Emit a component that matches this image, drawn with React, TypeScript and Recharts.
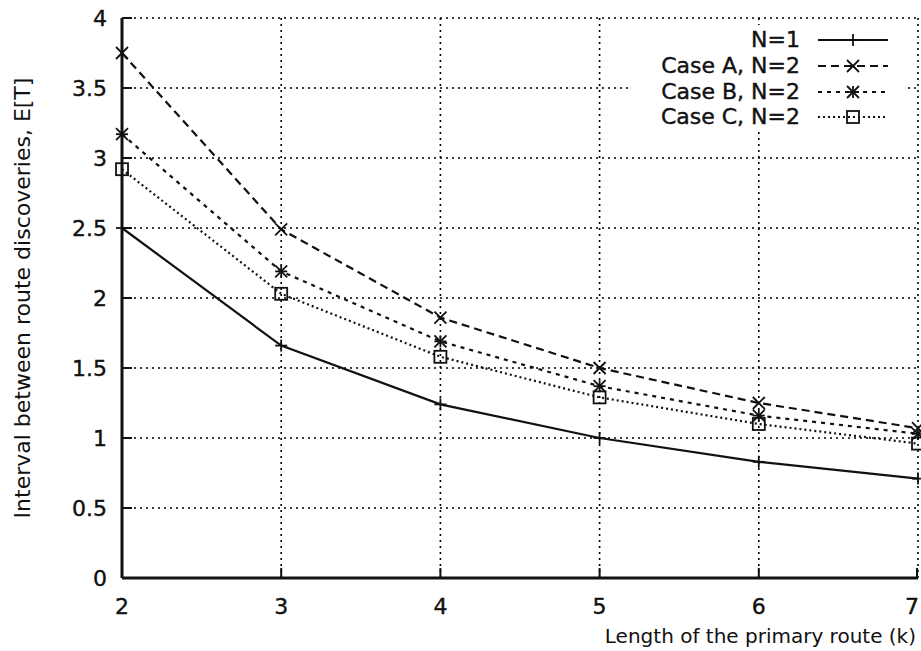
import { CartesianGrid, Line, LineChart, XAxis, YAxis } from "recharts";

const K = [2, 3, 4, 5, 6, 7];
const N1 = [2.5, 1.66, 1.24, 1.0, 0.83, 0.71];
const CASE_A = [3.75, 2.49, 1.86, 1.5, 1.25, 1.07];
const CASE_B = [3.17, 2.19, 1.69, 1.37, 1.16, 1.03];
const CASE_C = [2.92, 2.03, 1.58, 1.29, 1.1, 0.96];

const X_TICKS = [2, 3, 4, 5, 6, 7];
const Y_TICKS = [0, 0.5, 1, 1.5, 2, 2.5, 3, 3.5, 4];

const SERIES_NAMES = ["N=1", "Case A, N=2", "Case B, N=2", "Case C, N=2"];

const data = K.map((k, i) => ({
  k,
  n1: N1[i],
  a: CASE_A[i],
  b: CASE_B[i],
  c: CASE_C[i],
}));

const FONT = "'DejaVu Sans', sans-serif";
const INK = "#111";

type Shape = "plus" | "cross" | "star" | "square";

function Marker({ cx, cy, shape }: { cx: number; cy: number; shape: Shape }) {
  const h = 6;
  const p = { stroke: INK, strokeWidth: 1.8, fill: "none" };
  if (shape === "square")
    return <rect x={cx - h} y={cy - h} width={h * 2} height={h * 2} {...p} />;
  const plus = (
    <>
      <line x1={cx - h} y1={cy} x2={cx + h} y2={cy} {...p} />
      <line x1={cx} y1={cy - h} x2={cx} y2={cy + h} {...p} />
    </>
  );
  const cross = (
    <>
      <line x1={cx - h} y1={cy - h} x2={cx + h} y2={cy + h} {...p} />
      <line x1={cx - h} y1={cy + h} x2={cx + h} y2={cy - h} {...p} />
    </>
  );
  return (
    <g>
      {(shape === "plus" || shape === "star") && plus}
      {(shape === "cross" || shape === "star") && cross}
    </g>
  );
}

const SERIES: { key: string; shape: Shape; dash?: string }[] = [
  { key: "n1", shape: "plus" },
  { key: "a", shape: "cross", dash: "8 5" },
  { key: "b", shape: "star", dash: "4 5" },
  { key: "c", shape: "square", dash: "2 3" },
];

const dotFor = (shape: Shape) => (props: any) =>
  props.cx == null ? null : (
    <Marker key={props.index} cx={props.cx} cy={props.cy} shape={shape} />
  );

const textStyle = { fontSize: 22, fontFamily: FONT, fill: INK, stroke: INK, strokeWidth: 0.4 };

const leftTick = (props: any) => (
  <g>
    <line x1={props.x} y1={props.y} x2={props.x + 10} y2={props.y} stroke={INK} strokeWidth={2} />
    <text x={props.x - 15} y={props.y + 8} textAnchor="end" {...textStyle}>
      {props.payload.value}
    </text>
  </g>
);
const rightTick = (props: any) => (
  <line x1={props.x} y1={props.y} x2={props.x - 10} y2={props.y} stroke={INK} strokeWidth={2} />
);
const bottomTick = (props: any) => (
  <g>
    <line x1={props.x} y1={props.y} x2={props.x} y2={props.y - 10} stroke={INK} strokeWidth={2} />
    <text x={Math.min(props.x, 912)} y={props.y + 36} textAnchor="middle" {...textStyle}>
      {props.payload.value}
    </text>
  </g>
);
const topTick = (props: any) => (
  <line x1={props.x} y1={props.y} x2={props.x} y2={props.y + 10} stroke={INK} strokeWidth={2} />
);

const yLabel = (p: any) => {
  const vb = p.viewBox ?? { x: 0, y: 18, width: 122, height: 560 };
  const x = vb.x + 22;
  const y = vb.y + vb.height / 2;
  return (
    <text
      x={x}
      y={y}
      transform={`rotate(-90, ${x}, ${y})`}
      textAnchor="middle"
      dominantBaseline="central"
      fontSize={22}
      fontFamily={FONT}
      fill={INK}
    >
      Interval between route discoveries, E[T]
    </text>
  );
};

const xLabel = (p: any) => {
  const vb = p.viewBox ?? { y: 578 };
  return (
    <text x={916} y={vb.y + 65} textAnchor="end" fontSize={20} fontFamily={FONT} fill={INK}>
      Length of the primary route (k)
    </text>
  );
};

function LegendBox() {
  const rows = [40, 66, 92, 117];
  return (
    <div
      style={{
        position: "absolute",
        left: 628,
        top: 25,
        width: 280,
        height: 106,
        background: "#fff",
      }}
    >
      {SERIES.map((s, i) => (
        <div
          key={s.key}
          style={{ position: "absolute", left: 0, top: rows[i] - 25 - 13, height: 26, width: 280 }}
        >
          <span
            style={{
              position: "absolute",
              right: 280 - 172,
              top: 0,
              lineHeight: "26px",
              fontSize: 22,
              fontFamily: FONT,
              color: INK,
              whiteSpace: "nowrap",
              WebkitTextStroke: "0.4px #111",
            }}
          >
            {SERIES_NAMES[i]}
          </span>
          <svg width={74} height={26} style={{ position: "absolute", left: 188, top: 0 }}>
            <line
              x1={2}
              y1={13}
              x2={72}
              y2={13}
              stroke={INK}
              strokeWidth={2}
              strokeDasharray={s.dash}
            />
            <Marker cx={37} cy={13} shape={s.shape} />
          </svg>
        </div>
      ))}
    </div>
  );
}

export default function App() {
  return (
    <div style={{ position: "fixed", left: 0, top: 0, width: 921, height: 651, background: "#fff" }}>
      <LineChart width={921} height={651} data={data} margin={{ top: 18, right: 3, bottom: 0, left: 0 }}>
        <CartesianGrid stroke="#000" strokeWidth={1.6} strokeDasharray="2 4" />
        <XAxis
          dataKey="k"
          type="number"
          domain={[2, 7]}
          ticks={X_TICKS}
          height={73}
          tickSize={0}
          tickMargin={0}
          tickLine={false}
          tick={bottomTick}
          axisLine={{ stroke: INK, strokeWidth: 3 }}
          label={{ content: xLabel }}
        />
        <XAxis
          xAxisId="top"
          orientation="top"
          dataKey="k"
          type="number"
          domain={[2, 7]}
          ticks={X_TICKS}
          height={0}
          tickSize={0}
          tickMargin={0}
          tickLine={false}
          tick={topTick}
          axisLine={{ stroke: INK, strokeWidth: 3 }}
        />
        <YAxis
          domain={[0, 4]}
          ticks={Y_TICKS}
          width={122}
          tickSize={0}
          tickMargin={0}
          tickLine={false}
          tick={leftTick}
          axisLine={{ stroke: INK, strokeWidth: 3 }}
          label={{ content: yLabel }}
        />
        <YAxis
          yAxisId="right"
          orientation="right"
          domain={[0, 4]}
          ticks={Y_TICKS}
          width={0}
          tickSize={0}
          tickMargin={0}
          tickLine={false}
          tick={rightTick}
          axisLine={{ stroke: INK, strokeWidth: 3 }}
        />
        {SERIES.map((s) => (
          <Line
            key={s.key}
            dataKey={s.key}
            stroke={INK}
            strokeWidth={2.2}
            strokeDasharray={s.dash}
            dot={dotFor(s.shape)}
            activeDot={false}
            isAnimationActive={false}
          />
        ))}
      </LineChart>
      <LegendBox />
    </div>
  );
}
